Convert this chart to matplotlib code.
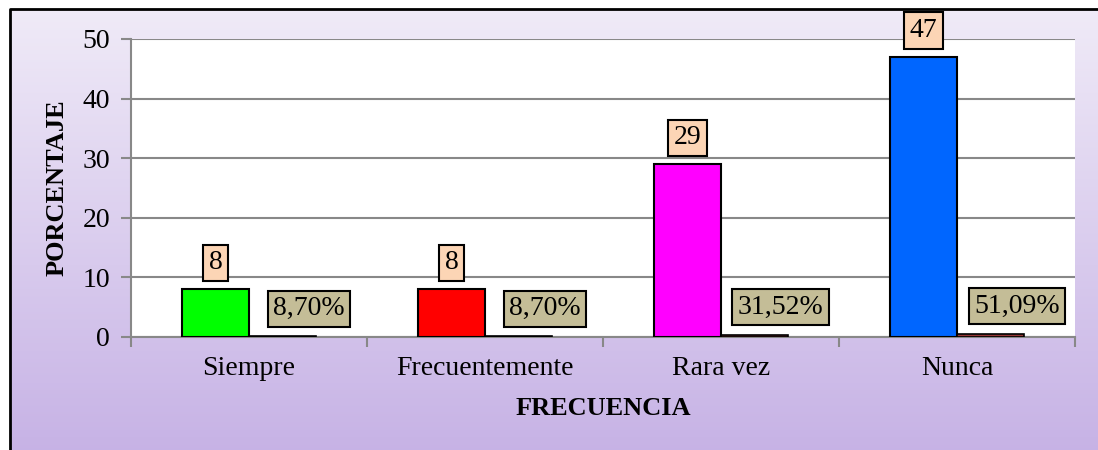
import numpy as np
import matplotlib.pyplot as plt
from matplotlib.lines import Line2D

# datos
categorias = ['Siempre', 'Frecuentemente', 'Rara vez', 'Nunca']
frecuencia = [8, 8, 29, 47]
porcentaje = [0.0870, 0.0870, 0.3152, 0.5109]
colores = ['#00FF00', '#FF0000', '#FF00FF', '#0066FF']

plt.rcParams['font.family'] = ['Liberation Serif', 'DejaVu Serif']

fig = plt.figure(figsize=(10.98, 4.5), dpi=100)

# fondo degradado
bg = fig.add_axes([10 / 1098, 0, 1 - 10 / 1098, 441 / 450], zorder=-10)
grad = np.linspace(0, 1, 256).reshape(-1, 1)
top = np.array([0.94, 0.92, 0.97])
bot = np.array([0.78, 0.70, 0.90])
img = top + (bot - top) * grad[:, :, None]
bg.imshow(img, aspect='auto', extent=[0, 1, 0, 1], origin='upper', interpolation='bilinear')
bg.set_xlim(0, 1)
bg.set_ylim(0, 1)
bg.axis('off')

# borde (solo arriba e izquierda se ven)
fig.add_artist(Line2D([10 / 1098, 10 / 1098, 1], [0, 441 / 450, 441 / 450],
                      transform=fig.transFigure, color='black', linewidth=2))

ax = fig.add_axes([131 / 1098, 113 / 450, 944 / 1098, 298 / 450])
ax.set_facecolor('white')

x = np.arange(len(categorias))
w = 0.284
ax.bar(x - w / 2, frecuencia, width=w, color=colores, edgecolor='black', linewidth=1.5, zorder=3)
ax.bar(x + w / 2, porcentaje, width=w, color='#953735', edgecolor='black', linewidth=1.2, zorder=3)

for i in range(len(categorias)):
    ax.annotate(str(frecuencia[i]), (x[i] - w / 2, frecuencia[i]), xytext=(0, 19),
                textcoords='offset points', ha='center', va='center', fontsize=20,
                bbox=dict(boxstyle='square,pad=0.2', facecolor='#FCD5B5', edgecolor='black', linewidth=1.5),
                zorder=5)
    txt = ('%.2f%%' % (porcentaje[i] * 100)).replace('.', ',')
    ax.annotate(txt, (x[i] + w / 2, porcentaje[i]), xytext=(19, 20),
                textcoords='offset points', ha='center', va='center', fontsize=20,
                bbox=dict(boxstyle='square,pad=0.2', facecolor='#C4BD97', edgecolor='black', linewidth=1.5),
                zorder=5)

ax.set_xlim(-0.5, 3.5)
ax.set_ylim(0, 50)
ax.set_yticks([0, 10, 20, 30, 40, 50])
ax.set_xticks(x)
ax.set_xticklabels(categorias)
ax.set_xticks(np.arange(-0.5, 4, 1), minor=True)
ax.tick_params(axis='x', which='major', length=0, pad=14, labelsize=20)
ax.tick_params(axis='x', which='minor', length=7, width=1.5, color='#888888', direction='out')
ax.tick_params(axis='y', length=7, width=1.5, color='#888888', labelsize=20, pad=8)
ax.grid(axis='y', color='#888888', linewidth=1.5, zorder=0)
ax.set_axisbelow(True)
for s in ['top', 'right']:
    ax.spines[s].set_visible(False)
ax.spines['left'].set_color('#888888')
ax.spines['left'].set_linewidth(1.5)
ax.spines['bottom'].set_color('#888888')
ax.spines['bottom'].set_linewidth(1.5)

ax.set_ylabel('PORCENTAJE', fontsize=19, fontweight='bold')
ax.yaxis.set_label_coords(-0.066, 0.5)
ax.set_xlabel('FRECUENCIA', fontsize=19, fontweight='bold')
ax.xaxis.set_label_coords(0.5, -0.20)

fig.savefig('out.png', dpi=100)
